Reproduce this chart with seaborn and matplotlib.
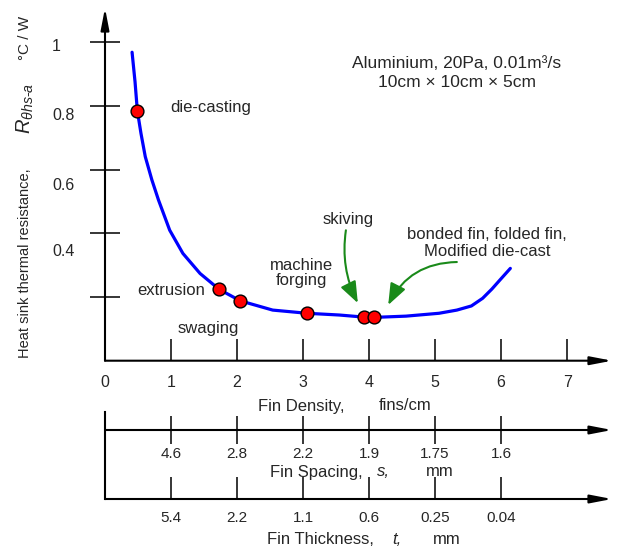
import matplotlib.pyplot as plt
import seaborn as sns

# values
curve_density = [0.41, 0.455, 0.49, 0.545, 0.61, 0.71, 0.81, 0.98, 1.18, 1.44, 1.73, 2.05,
                 2.54, 3.06, 3.55, 3.92, 4.07, 4.56, 5.06, 5.33, 5.55, 5.72, 5.86, 5.98, 6.14]
curve_resistance = [0.969, 0.876, 0.785, 0.714, 0.641, 0.568, 0.505, 0.41, 0.337, 0.274, 0.224, 0.188,
                     0.159, 0.149, 0.1435, 0.137, 0.136, 0.140, 0.149, 0.159, 0.172, 0.196, 0.225, 0.253, 0.29]

process_density = [0.49, 1.73, 2.05, 3.06, 3.92, 4.07]
process_resistance = [0.785, 0.224, 0.188, 0.149, 0.137, 0.137]

density_ticks = [0, 1, 2, 3, 4, 5, 6, 7]
scale_ticks = [1, 2, 3, 4, 5, 6]
spacing_labels = ["4.6", "2.8", "2.2", "1.9", "1.75", "1.6"]
thickness_labels = ["5.4", "2.2", "1.1", "0.6", "0.25", "0.04"]
resistance_ticks = [0.2, 0.4, 0.6, 0.8, 1.0]
resistance_labels = ["0.4", "0.6", "0.8", "1"]

sns.set_style("white")
plt.rcParams['font.family'] = ['Liberation Sans', 'DejaVu Sans']
plt.rcParams['mathtext.fontset'] = 'custom'
plt.rcParams['mathtext.rm'] = 'Liberation Sans'
plt.rcParams['mathtext.it'] = 'Liberation Sans:italic'

W, H = 622, 549
fig = plt.figure(figsize=(W / 100, H / 100), dpi=100)


def px(x, y):
    # pixel position -> figure fraction
    return x / W, 1 - y / H


x0, x1 = 105, 612
xmax = 7.68


def axis_arrow(a, vertical=False):
    end = (0, 1) if vertical else (1, 0)
    a.annotate('', xy=end, xytext=(0, 0), xycoords='axes fraction',
               arrowprops=dict(arrowstyle='-|>,head_length=1.3,head_width=0.25',
                               color='black', lw=1.5, shrinkA=0, shrinkB=0,
                               mutation_scale=10), annotation_clip=False)


# main axes
ax = fig.add_axes([x0 / W, 1 - 360.7 / H, (x1 - x0) / W, (360.7 - 8) / H])
ax.patch.set_visible(False)
sns.lineplot(x=curve_density, y=curve_resistance, sort=False, color='#0000ff', lw=2.3, ax=ax)
sns.scatterplot(x=process_density, y=process_resistance, s=85, color='red',
                edgecolor='black', linewidth=1, zorder=4, ax=ax)
ax.set_xlim(0, xmax)
ax.set_ylim(0, 1.108)
for s in ax.spines.values():
    s.set_visible(False)
axis_arrow(ax)
axis_arrow(ax, vertical=True)
ax.set_xticks(density_ticks, [str(t) for t in density_ticks])
ax.set_yticks(resistance_ticks, [""] * len(resistance_ticks))
ax.tick_params(axis='x', bottom=True, direction='in', length=16, width=1.3, pad=10, labelsize=11.5)
ax.tick_params(axis='y', left=True, direction='inout', length=22, width=1.3)

# y tick labels sit a little below their ticks in the original
for lab, ypix in zip(resistance_labels, [251, 185, 116, 47]):
    fig.text(*px(52, ypix), lab, ha='left', va='center', fontsize=11.5)

# annotations
ax.text(0.985, 0.794, "die-casting", ha='left', va='center', fontsize=12)
ax.text(1.0, 0.22, "extrusion", ha='center', va='center', fontsize=12)
ax.text(1.56, 0.10, "swaging", ha='center', va='center', fontsize=12)
ax.text(2.98, 0.277, "machine\nforging", ha='center', va='center', fontsize=12, linespacing=1.0)
ax.text(5.33, 0.904, "Aluminium, 20Pa, 0.01m³/s\n10cm × 10cm × 5cm", ha='center', va='center',
        fontsize=12.5, linespacing=1.3)
ax.annotate("skiving", xy=(3.83, 0.181), xytext=(3.68, 0.42), fontsize=12,
            ha='center', va='bottom',
            arrowprops=dict(arrowstyle='-|>,head_length=1.3,head_width=0.5', color='#1a8a1a',
                            lw=1.5, mutation_scale=10, shrinkA=0, shrinkB=0,
                            connectionstyle='arc3,rad=0.18'))
ax.annotate("", xy=(4.29, 0.175), xytext=(5.33, 0.31),
            arrowprops=dict(arrowstyle='-|>,head_length=1.3,head_width=0.5', color='#1a8a1a',
                            lw=1.5, mutation_scale=10, shrinkA=0, shrinkB=0,
                            connectionstyle='arc3,rad=0.3'))
ax.text(5.79, 0.371, "bonded fin, folded fin,\nModified die-cast", ha='center', va='center',
        fontsize=12, linespacing=1.15)

# y label pieces
fig.text(*px(25, 263), "Heat sink thermal resistance,", rotation=90, ha='center', va='center', fontsize=10.5)
fig.text(*px(25, 108), r"$R_{\theta hs\text{-}a}$", rotation=90, ha='center', va='center', fontsize=14.5)
fig.text(*px(25, 38), "°C / W", rotation=90, ha='center', va='center', fontsize=11)

# x label
fig.text(*px(258, 406), "Fin Density,", ha='left', va='center', fontsize=12)
fig.text(*px(379, 406), "fins/cm", ha='left', va='center', fontsize=12)

# fin spacing scale
ax_s = fig.add_axes([x0 / W, 1 - 430 / H, (x1 - x0) / W, 0.02])
ax_s.patch.set_visible(False)
ax_s.set_xlim(0, xmax)
ax_s.set_yticks([])
for s in ax_s.spines.values():
    s.set_visible(False)
axis_arrow(ax_s)
ax_s.set_xticks(scale_ticks, spacing_labels)
ax_s.tick_params(axis='x', bottom=True, direction='inout', length=20, width=1.3, pad=2, labelsize=11)
fig.text(*px(270, 472), "Fin Spacing,", ha='left', va='center', fontsize=12)
fig.text(*px(377, 472), "s,", ha='left', va='center', fontsize=12, style='italic')
fig.text(*px(426, 472), "mm", ha='left', va='center', fontsize=12)

# fin thickness scale
ax_t = fig.add_axes([x0 / W, 1 - 499 / H, (x1 - x0) / W, (499 - 412) / H])
ax_t.patch.set_visible(False)
ax_t.set_xlim(0, xmax)
ax_t.set_yticks([])
for name, s in ax_t.spines.items():
    s.set_visible(name == 'left')
ax_t.spines['left'].set_linewidth(1.5)
ax_t.spines['left'].set_color('black')
axis_arrow(ax_t)
ax_t.set_xticks(scale_ticks, thickness_labels)
ax_t.tick_params(axis='x', bottom=True, direction='in', length=16, width=1.3, pad=9, labelsize=11)
fig.text(*px(267, 539), "Fin Thickness,", ha='left', va='center', fontsize=12)
fig.text(*px(392, 539), "t,", ha='left', va='center', fontsize=12, style='italic')
fig.text(*px(433, 539), "mm", ha='left', va='center', fontsize=12)

fig.savefig("out.png", dpi=100)
